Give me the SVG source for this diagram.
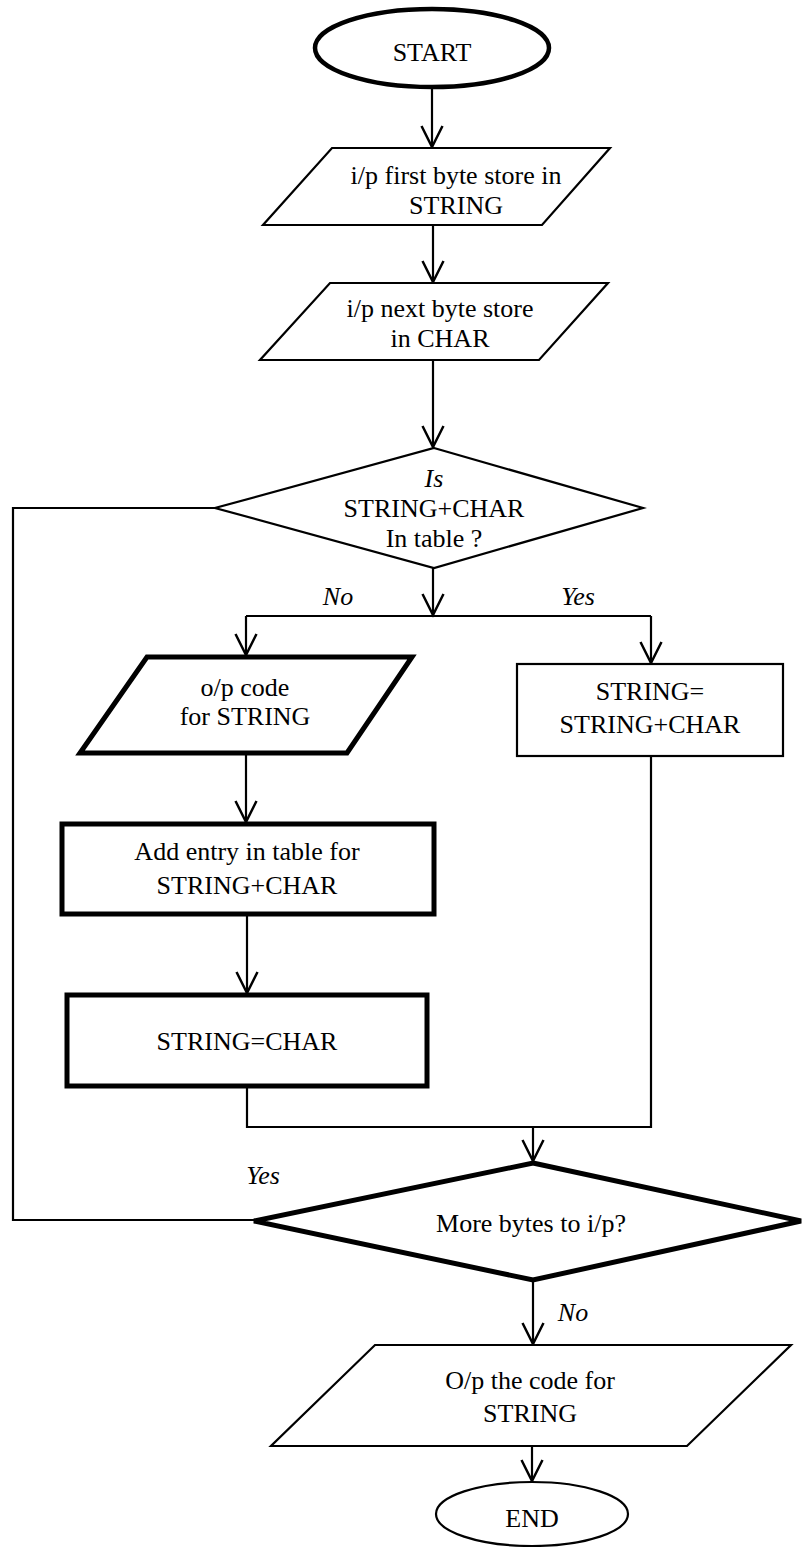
<svg xmlns="http://www.w3.org/2000/svg" width="803" height="1547" viewBox="0 0 803 1547">
  <style>
    .shape { fill: #ffffff; stroke: #000000; stroke-width: 2.2; stroke-linejoin: miter; }
    .bold { stroke-width: 5; }
    .oval { stroke-width: 4.5; }
    .label { font-family: 'Times New Roman', 'Liberation Serif', 'DejaVu Serif', serif; font-size: 26px; fill: #000000; text-anchor: middle; }
    .it { font-style: italic; }
    .wire { fill: none; stroke: #000000; stroke-width: 2.2; }
    .arrow { marker-end: url(#head); }
  </style>
  <defs>
    <marker id="head" markerUnits="userSpaceOnUse" viewBox="-24 -13 26 26" refX="0" refY="0" markerWidth="26" markerHeight="26" orient="auto" overflow="visible">
      <path d="M -21,-10.5 L 0,0 L -21,10.5" fill="none" stroke="#000000" stroke-width="2.5" stroke-linejoin="miter"/>
    </marker>
  </defs>

  <!-- connectors -->
  <g id="connectors">
    <path class="wire arrow" d="M 432,89 L 432,147"/>
    <path class="wire arrow" d="M 433,225 L 433,282"/>
    <path class="wire arrow" d="M 433,360 L 433,447"/>
    <path class="wire arrow" d="M 433,568 L 433,615"/>
    <path class="wire" d="M 246,616 L 651,616"/>
    <path class="wire arrow" d="M 246,616 L 246,655"/>
    <path class="wire arrow" d="M 651,616 L 651,663"/>
    <path class="wire arrow" d="M 246,754 L 246,822"/>
    <path class="wire arrow" d="M 247,915 L 247,993"/>
    <path class="wire" d="M 247,1087 L 247,1127 L 651,1127 L 651,757"/>
    <path class="wire arrow" d="M 533,1127 L 533,1161"/>
    <path class="wire" d="M 215,508 L 13,508 L 13,1220 L 254,1220"/>
    <path class="wire arrow" d="M 533,1281 L 533,1344"/>
    <path class="wire arrow" d="M 532,1446 L 532,1481"/>
  </g>

  <!-- branch labels -->
  <g id="branch-labels">
    <text class="label it" x="338" y="605">No</text>
    <text class="label it" x="578" y="605">Yes</text>
    <text class="label it" x="263" y="1184">Yes</text>
    <text class="label it" x="573" y="1321">No</text>
  </g>

  <g id="start">
    <ellipse class="shape oval" cx="432" cy="48" rx="117" ry="39"/>
    <text class="label" x="432" y="61">START</text>
  </g>

  <g id="input-first">
    <polygon class="shape" points="332,148 610,148 542,225 263,225"/>
    <text class="label" x="456" y="184">i/p first byte store in</text>
    <text class="label" x="456" y="214">STRING</text>
  </g>

  <g id="input-next">
    <polygon class="shape" points="330,283 608,283 539,360 260,360"/>
    <text class="label" x="440" y="317">i/p next byte store</text>
    <text class="label" x="440" y="347">in CHAR</text>
  </g>

  <g id="in-table">
    <polygon class="shape" points="434,448 643,508 434,568 215,508"/>
    <text class="label it" x="434" y="487">Is</text>
    <text class="label" x="434" y="517">STRING+CHAR</text>
    <text class="label" x="434" y="547">In table ?</text>
  </g>

  <g id="output-code">
    <polygon class="shape bold" points="147,657 412,657 347,753 80,753"/>
    <text class="label" x="245" y="696">o/p code</text>
    <text class="label" x="245" y="725">for STRING</text>
  </g>

  <g id="extend-string">
    <rect class="shape" x="517" y="664" width="266" height="92"/>
    <text class="label" x="650" y="700">STRING=</text>
    <text class="label" x="650" y="733">STRING+CHAR</text>
  </g>

  <g id="add-entry">
    <rect class="shape bold" x="62" y="824" width="372" height="90"/>
    <text class="label" x="247" y="860">Add entry in table for</text>
    <text class="label" x="247" y="894">STRING+CHAR</text>
  </g>

  <g id="reset-string">
    <rect class="shape bold" x="67" y="995" width="360" height="91"/>
    <text class="label" x="247" y="1050">STRING=CHAR</text>
  </g>

  <g id="more-bytes">
    <polygon class="shape bold" points="533,1163 801,1221 533,1280 254,1221"/>
    <text class="label" x="531" y="1232">More bytes to i/p?</text>
  </g>

  <g id="output-final">
    <polygon class="shape" points="375,1345 791,1345 687,1446 271,1446"/>
    <text class="label" x="530" y="1389">O/p the code for</text>
    <text class="label" x="530" y="1422">STRING</text>
  </g>

  <g id="end">
    <ellipse class="shape" cx="532" cy="1514" rx="96" ry="32"/>
    <text class="label" x="532" y="1527">END</text>
  </g>
</svg>
